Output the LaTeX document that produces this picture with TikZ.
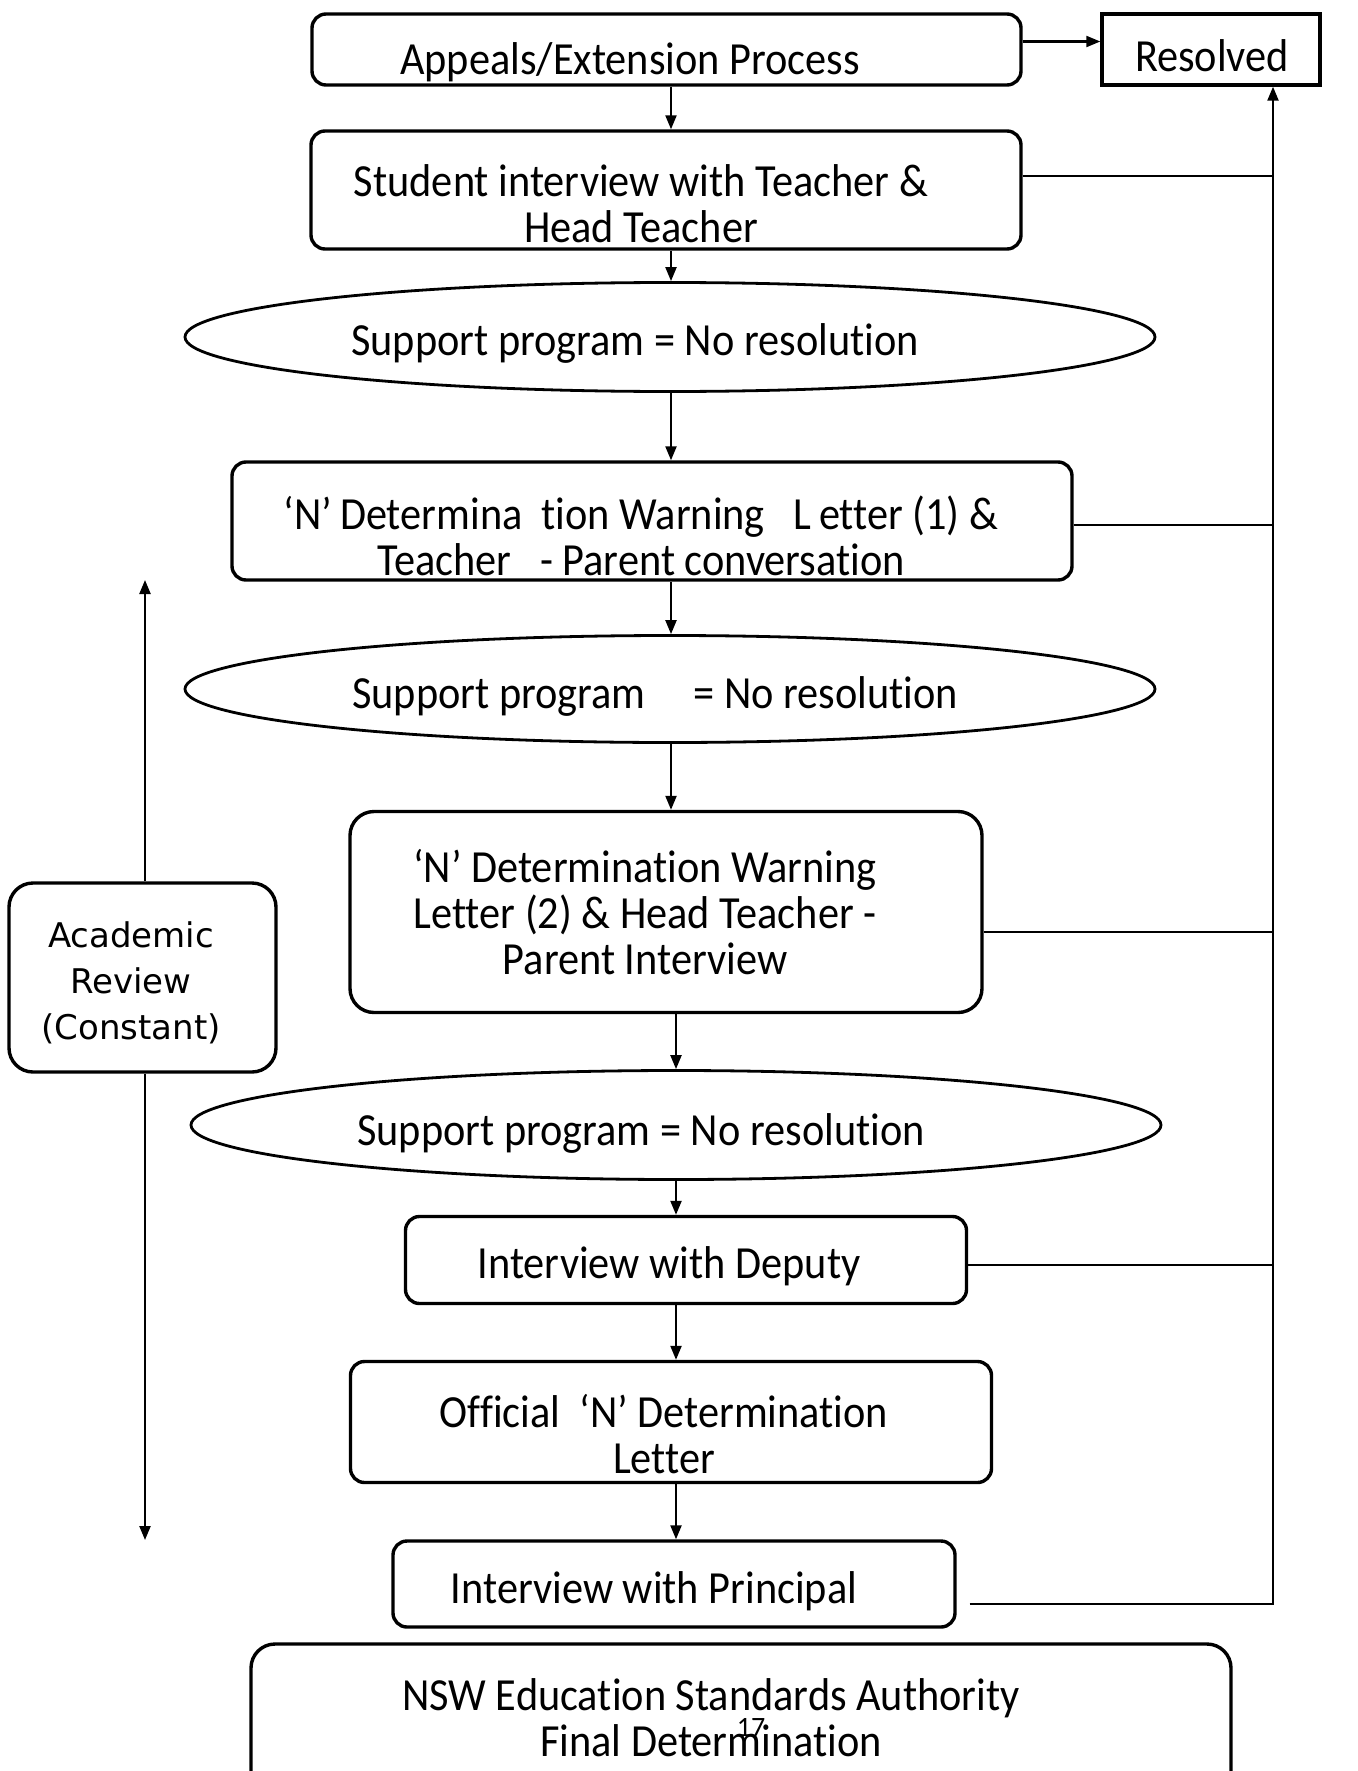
\documentclass[tikz,border=0pt]{standalone}
\usepackage{fontspec}
\setmainfont{Carlito}
\newfontfamily\boxfont{Carlito}[FakeStretch=0.92,Ligatures=NoCommon]
\newfontfamily\pagefont{Carlito}[Ligatures=NoCommon]
\newfontfamily\revfont{DejaVu Sans}
\usetikzlibrary{arrows.meta,shapes.geometric,calc}
\begin{document}
\begin{tikzpicture}[x=0.5pt,y=-0.5pt,
  box/.style={draw,line width=1.7pt,rounded corners=7pt,inner sep=0pt},
  bigbox/.style={box,rounded corners=12pt},
  ell/.style={draw,ellipse,line width=1.4pt,inner sep=0pt},
  txt/.style={font={\boxfont\fontsize{23}{23}\selectfont},align=center,inner sep=0pt},
  revtxt/.style={font={\revfont\fontsize{17}{23}\selectfont},align=center,inner sep=0pt},
  arr/.style={-{Triangle[length=7pt,width=5.5pt]},line width=1.1pt},
  link/.style={line width=1.1pt}]
\useasboundingbox (0,0) rectangle (1358,1771);
\fill[white] (0,0) rectangle (1358,1771);

% boxes
\node[box,minimum width=354.5pt,minimum height=35.5pt] (appeals) at (666.5,49.5) {};
\node[box,sharp corners,minimum width=109pt,minimum height=35.5pt] (resolved) at (1211,49.5) {};
\node[box,minimum width=355pt,minimum height=59pt] (student) at (666,190) {};
\node[ell,minimum width=485pt,minimum height=54.5pt] (ell1) at (670,337) {};
\node[box,minimum width=420pt,minimum height=59pt] (n1) at (652,521) {};
\node[ell,minimum width=485pt,minimum height=53.5pt] (ell2) at (670,689) {};
\node[bigbox,minimum width=316pt,minimum height=100.5pt] (n2) at (666,912) {};
\node[ell,minimum width=485pt,minimum height=54.5pt] (ell3) at (676,1125) {};
\node[box,minimum width=280.5pt,minimum height=43.5pt] (deputy) at (686,1260) {};
\node[box,minimum width=320.5pt,minimum height=60.5pt] (official) at (671,1422) {};
\node[box,minimum width=281pt,minimum height=43pt] (principal) at (674,1584) {};
\begin{scope}
\clip (0,0) rectangle (1358,1771);
\node[bigbox,minimum width=490pt,minimum height=80pt] (nsw) at (741,1724) {};
\end{scope}
\node[bigbox,minimum width=133.5pt,minimum height=94.5pt] (academic) at (142.5,977.5) {};

% texts
\node[txt] (tappeals) at (630,62) {Appeals/Extension Process};
\node[txt] (tresolved) at (1212,56) {Resolved};
\node[txt] (tstudent) at (641,204) {Student interview with Teacher \&\\Head Teacher};
\node[txt] (tell1) at (635,343) {Support program = No resolution};
\node[txt] (tn1) at (641,536) {‘N’\,Determina\ \ tion Warning\ \ \ L\,etter (1) \&\\Teacher\ \ \ - Parent conversation};
\node[txt] (tell2) at (655,696) {Support program\ \ \ \ \ = No resolution};
\node[txt] (tn2) at (645,912) {‘N’\ Determination Warning\\Letter (2) \& Head Teacher -\\Parent Interview};
\node[txt] (tell3) at (641,1133) {Support program = No resolution};
\node[txt] (tdeputy) at (669,1266) {Interview with Deputy};
\node[txt] (tofficial) at (664,1434) {Official\ \ ‘N’\ Determination\\Letter};
\node[txt] (tprincipal) at (654,1591) {Interview with Principal};
\node[txt] (tnsw) at (711,1718) {NSW Education Standards Authority\\Final Determination};
\node[font={\pagefont\fontsize{14}{14}\selectfont},inner sep=0pt] (tpage) at (751,1727) {17};
\node[revtxt] (tacademic) at (131,983) {Academic\\Review\\(Constant)};

% main chain
\coordinate (colA) at (671,0);
\coordinate (colB) at (676,0);
\coordinate (bus) at (1273,0);
\coordinate (a1) at ($(appeals.east)+(0,-8)$);
\draw[arr] (a1) -- (a1 -| resolved.west);
\draw[arr] (appeals.south -| colA) -- (student.north -| colA);
\draw[arr] (student.south -| colA) -- (ell1.north -| colA);
\draw[arr] (ell1.south -| colA) -- (n1.north -| colA);
\draw[arr] (n1.south -| colA) -- (ell2.north -| colA);
\draw[arr] (ell2.south -| colA) -- (n2.north -| colA);
\draw[arr] (n2.south -| colB) -- (ell3.north -| colB);
\draw[arr] (ell3.south -| colB) -- (deputy.north -| colB);
\draw[arr] (deputy.south -| colB) -- (official.north -| colB);
\draw[arr] (official.south -| colB) -- (principal.north -| colB);

% bus to Resolved
\coordinate (s1) at ($(student.east)+(0,-14)$);
\draw[link] (s1) -- (s1 -| bus);
\coordinate (s2) at ($(n1.east)+(0,4)$);
\draw[link] (s2) -- (s2 -| bus);
\coordinate (s3) at ($(n2.east)+(0,20)$);
\draw[link] (s3) -- (s3 -| bus);
\coordinate (s4) at ($(deputy.east)+(0,5)$);
\draw[link] (s4) -- (s4 -| bus);
\coordinate (s5) at ($(principal.east)+(13,20)$);
\draw[arr] (s5) -- (s5 -| bus) -- (bus |- resolved.south);

% academic review arrows
\coordinate (rtop) at (145,580);
\coordinate (rbot) at (145,1540);
\draw[arr] (academic.north -| rtop) -- (rtop);
\draw[arr] (academic.south -| rtop) -- (rbot);
\end{tikzpicture}
\end{document}
